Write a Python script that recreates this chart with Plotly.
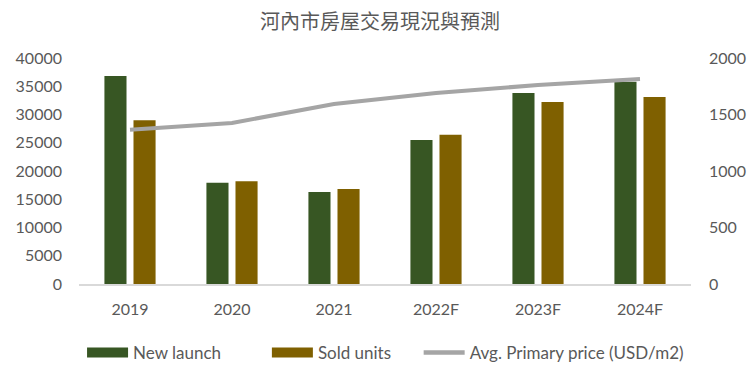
import plotly.graph_objects as go

years = ["2019", "2020", "2021", "2022F", "2023F", "2024F"]
new_launch = [36800, 17900, 16300, 25500, 33800, 35800]
sold_units = [29000, 18200, 16800, 26400, 32200, 33100]
avg_price = [1365, 1425, 1593, 1690, 1761, 1814]

left_ticks = [0, 5000, 10000, 15000, 20000, 25000, 30000, 35000, 40000]
right_ticks = [0, 500, 1000, 1500, 2000]

names = ["New launch", "Sold units", "Avg. Primary price (USD/m2)"]
colors = ["#375623", "#7F6000", "#A5A5A5"]

font_family = "Lato, Open Sans, sans-serif"
gray = "#595959"

# page body has an 8px margin; figure sized to the visible area
W, H = 748, 358

fig = go.Figure()
fig.add_trace(go.Bar(x=years, y=new_launch, name=names[0], showlegend=False,
                     marker=dict(color=colors[0], line=dict(width=0))))
fig.add_trace(go.Bar(x=years, y=sold_units, name=names[1], showlegend=False,
                     marker=dict(color=colors[1], line=dict(width=0))))
fig.add_trace(go.Scatter(x=years, y=avg_price, name=names[2], showlegend=False,
                         mode="lines", yaxis="y2",
                         line=dict(color=colors[2], width=4)))
# legend entries (swatches), one legend each so spacing can match
legend_ids = ["legend", "legend2", "legend3"]
swatch_w = [10, 10, 4.5]
for nm, col, lid, sw in zip(names, colors, legend_ids, swatch_w):
    fig.add_trace(go.Scatter(x=[None], y=[None], name=nm, mode="lines",
                             line=dict(color=col, width=sw), legend=lid))

legend_x = [0.005, 0.307, 0.555]
legend_common = dict(orientation="h", xanchor="left", y=-0.305, yanchor="middle",
                     font=dict(family=font_family, size=17, color=gray),
                     itemwidth=41, bgcolor="rgba(0,0,0,0)")

fig.update_layout(
    width=W, height=H,
    margin=dict(l=71, r=65, t=50, b=82, autoexpand=False),
    paper_bgcolor="white", plot_bgcolor="white",
    title=dict(text="河內市房屋交易現況與預測", x=372 / W, xanchor="center",
               y=1 - 14 / H, yanchor="middle",
               font=dict(family="Noto Sans CJK TC", size=20, color=gray)),
    barmode="group", bargap=0.43, bargroupgap=0.24,
    showlegend=True,
    legend=dict(x=legend_x[0], **legend_common),
    legend2=dict(x=legend_x[1], **legend_common),
    legend3=dict(x=legend_x[2], **legend_common),
    xaxis=dict(showgrid=False, showline=True, linecolor="#D9D9D9", linewidth=1.5,
               ticks="", ticklabelstandoff=10, automargin=False,
               tickfont=dict(family=font_family, size=16, color=gray)),
    yaxis=dict(range=[0, 40000], tickvals=left_ticks,
               ticktext=[str(v) for v in left_ticks], showgrid=False, zeroline=False,
               showline=False, ticks="", ticklabelstandoff=16, automargin=False,
               tickfont=dict(family=font_family, size=16, color=gray)),
    yaxis2=dict(range=[0, 2000], tickvals=right_ticks,
                ticktext=[str(v) for v in right_ticks], overlaying="y", side="right",
                showgrid=False, zeroline=False, showline=False, ticks="",
                ticklabelstandoff=17, automargin=False,
                tickfont=dict(family=font_family, size=16, color=gray)),
)

fig.write_html("out.html")
